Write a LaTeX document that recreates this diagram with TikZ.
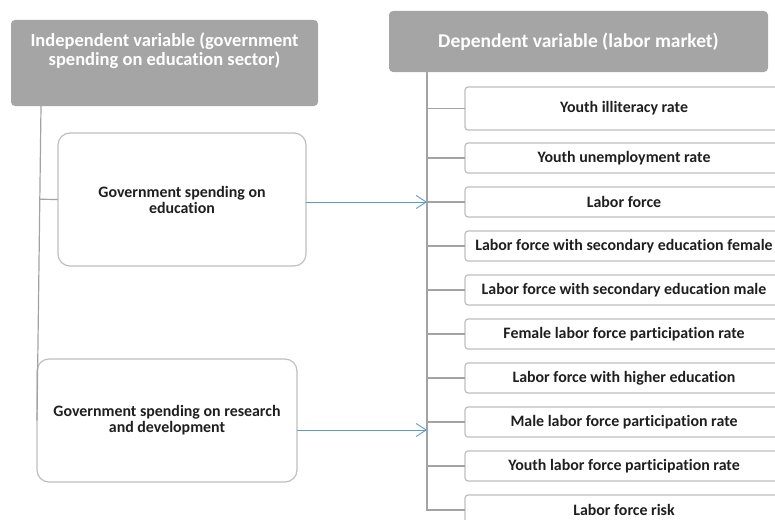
\documentclass[tikz,border=0pt]{standalone}
\usepackage{fontspec}
\setmainfont{Carlito}[Ligatures=NoCommon]
\usetikzlibrary{arrows.meta, positioning, calc}
\definecolor{headgray}{HTML}{A5A5A5}
\definecolor{framegray}{HTML}{BFBFBF}
\definecolor{linegray}{HTML}{A3A3A3}
\definecolor{flowblue}{HTML}{5B9BD5}
\definecolor{inktext}{HTML}{1F1F1F}

\begin{document}
\begin{tikzpicture}[
    x=1pt, y=-1pt,
    headbox/.style={rectangle, rounded corners=4pt, fill=headgray, draw=none, inner sep=0pt, outer sep=0pt, text=white, font=\fontsize{18.5}{18.7}\selectfont\bfseries, align=center},
    srcbox/.style={rectangle, rounded corners=12pt, draw=framegray, line width=1.2pt, fill=white, inner sep=0pt, outer sep=0pt, align=center, text=inktext, font=\fontsize{15.9}{16}\selectfont\bfseries},
    itembox/.style={rectangle, rounded corners=3pt, draw=framegray, line width=1.2pt, fill=white, minimum width=318pt, minimum height=30pt, inner sep=0pt, outer sep=0pt, text=inktext, font=\fontsize{15.9}{16}\selectfont\bfseries},
    link/.style={draw=linegray, line width=1.2pt},
    arrow/.style={-{Straight Barb[length=10pt, width=13pt]}, draw=flowblue, line width=0.9pt}
]
\useasboundingbox (0,0) rectangle (775,519);
\clip (0,0) rectangle (775,519);

% Headers
\node[headbox, minimum width=307pt, minimum height=86pt] (lhead) at (164.5,63) {};
\node[headbox, anchor=center] (ltitle) at (164.5,51) {Independent variable (government\\spending on education sector)};
\node[headbox, minimum width=379pt, minimum height=61pt, font=\fontsize{19.5}{20}\selectfont\bfseries, text depth=2pt] (rhead) at (578.5,41.5) {Dependent variable (labor market)};

% Independent variables
\node[srcbox, minimum width=248pt, minimum height=133pt] (src1) at (182,199.5) {Government spending on\\education};
\node[srcbox, minimum width=260pt, minimum height=123pt] (src2) at (167,420.5) {Government spending on research\\and development};

% Dependent variables
\node[itembox, minimum height=43pt] (it1) at (624,108.5) {Youth illiteracy rate};
\foreach \txt [count=\i from 2] in {Youth unemployment rate, Labor force,
    Labor force with secondary education female, Labor force with secondary education male,
    Female labor force participation rate, Labor force with higher education,
    Male labor force participation rate, Youth labor force participation rate, Labor force risk}
  \node[itembox] (it\i) at (624,{158+44*(\i-2)}) {\txt};

% Left tree
\coordinate (lspine) at ($(lhead.south west)+(30,0)$);
\draw[link] (lspine) -- (src2.west);
\draw[link] ($(lspine)!(src1.west)!(src2.west)$) -- (src1.west);

% Right tree
\coordinate (rspine) at ($(rhead.south west)+(38,0)$);
\draw[link] (rspine) |- (it10.west);
\foreach \i in {1,...,9}
  \draw[link] (rspine |- it\i.west) -- (it\i.west);

% Effects
\draw[arrow] (src1.east |- it3.west) -- (rspine |- it3.west);
\coordinate (src2out) at ([yshift=-9.5pt]src2.east);
\draw[arrow] (src2out) -- (rspine |- src2out);

\end{tikzpicture}
\end{document}
